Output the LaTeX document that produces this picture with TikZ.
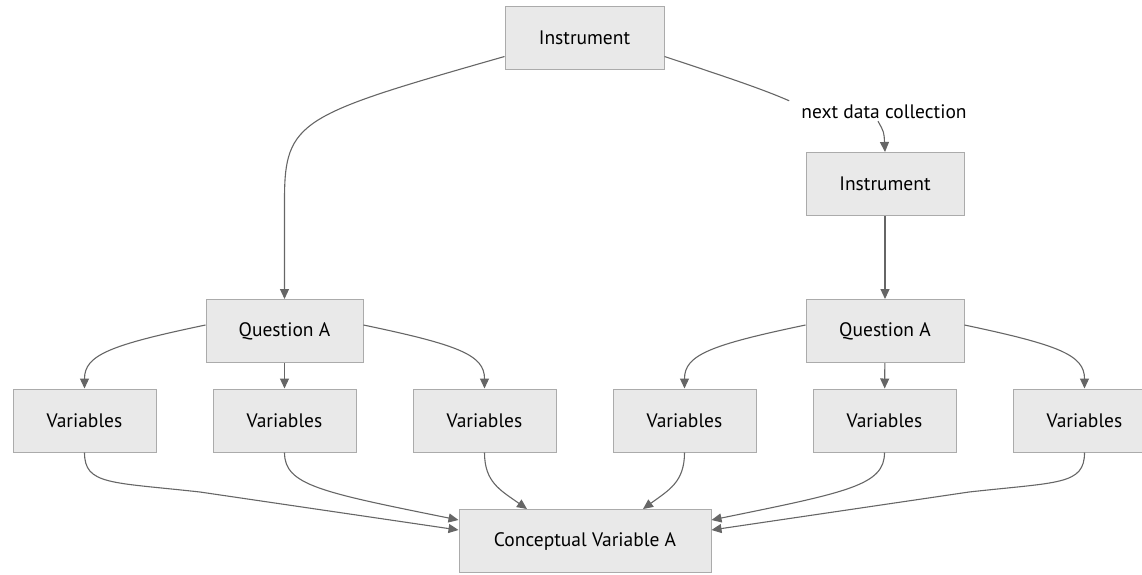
\documentclass[tikz,border=0pt]{standalone}
\usepackage{fontspec}
\setmainfont{PT Sans}
\usetikzlibrary{arrows.meta}

\tikzset{
  box/.style={draw=boxline, fill=boxfill, line width=1pt, minimum height=63pt, inner sep=0pt, font=\fontsize{19.5}{22}\selectfont},
  edge/.style={draw=edgegray, line width=1.1pt, -{Triangle[length=10pt,width=9pt]}},
}
\definecolor{boxfill}{HTML}{E9E9E9}
\definecolor{boxline}{HTML}{ABABAB}
\definecolor{edgegray}{HTML}{666666}

\begin{document}
\begin{tikzpicture}[x=1pt, y=-1pt]
\useasboundingbox (0,0) rectangle (1142,574);

% instruments and questions
\node[box, minimum width=159pt] (instA) at (584.5, 37.5) {Instrument};
\node[font=\fontsize{19.5}{22}\selectfont, inner sep=2pt] (nextlbl) at (884, 112) {next data collection};
\node[box, minimum width=158pt] (instB) at (885, 184) {Instrument};
\node[box, minimum width=157pt] (qA) at (284.5, 331) {Question A};
\node[box, minimum width=158pt] (qB) at (885, 331) {Question A};

% variables
\node[box, minimum width=143pt] (varA1) at (84.5, 420.5) {Variables};
\node[box, minimum width=143pt] (varA2) at (284.5, 420.5) {Variables};
\node[box, minimum width=143pt] (varA3) at (484.5, 420.5) {Variables};
\node[box, minimum width=143pt] (varB1) at (684.5, 420.5) {Variables};
\node[box, minimum width=143pt] (varB2) at (884.5, 420.5) {Variables};
\node[box, minimum width=143pt] (varB3) at (1084.5, 420.5) {Variables};

\node[box, minimum width=252pt] (concept) at (585, 541) {Conceptual Variable A};

% arrows
\draw[edge] ([yshift=-19pt]instA.west) .. controls (300,115) and (284.5,120) .. (284.5,200) -- (qA.north);
\draw[draw=edgegray, line width=1.1pt] ([yshift=-19pt]instA.east) .. controls (720,75) and (760,88) .. ([xshift=-10pt,yshift=2pt]nextlbl.north west);
\draw[edge] ([xshift=-6pt]nextlbl.south) .. controls (884,132) .. (instB.north);
\draw[edge] (instB) -- (qB);

\draw[edge] ([yshift=6pt]qA.west) .. controls (110,345) and (84.5,355) .. (varA1.north);
\draw[edge] (qA) -- (varA2);
\draw[edge] ([yshift=6pt]qA.east) .. controls (459,345) and (484.5,355) .. (varA3.north);
\draw[edge] ([yshift=6pt]qB.west) .. controls (710,345) and (684.5,355) .. (varB1.north);
\draw[edge] (qB) -- (varB2);
\draw[edge] ([yshift=6pt]qB.east) .. controls (1059,345) and (1084.5,355) .. (varB3.north);

\draw[edge] (varA1.south) .. controls (84.5,485) and (110,482) .. (200,492) -- ([yshift=11pt]concept.west);
\draw[edge] (varA2.south) .. controls (284.5,485) and (320,492) .. ([yshift=21pt]concept.west);
\draw[edge] (varA3.south) .. controls (484.5,482) and (500,490) .. ([xshift=-58pt]concept.north);
\draw[edge] (varB1.south) .. controls (684.5,482) and (669,490) .. ([xshift=58pt]concept.north);
\draw[edge] (varB2.south) .. controls (884.5,485) and (849,492) .. ([yshift=21pt]concept.east);
\draw[edge] (varB3.south) .. controls (1084.5,485) and (1059,482) .. (969,492) -- ([yshift=11pt]concept.east);

\end{tikzpicture}
\end{document}
